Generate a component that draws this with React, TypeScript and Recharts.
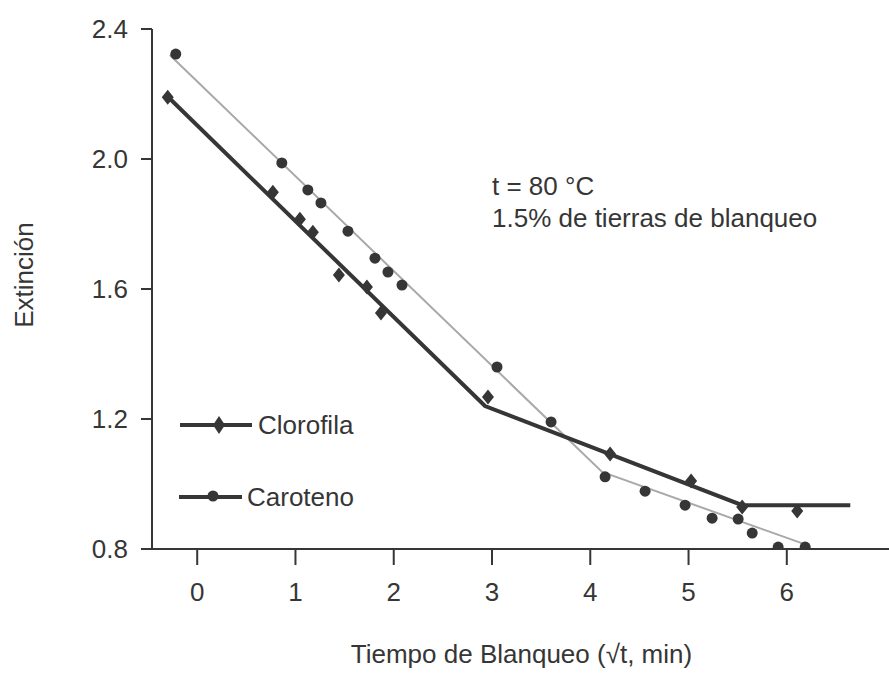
import { ComposedChart, Line, Scatter, XAxis, YAxis, Label } from 'recharts';

// tick values
const xTicks = [0, 1, 2, 3, 4, 5, 6];
const yTicks = [0.8, 1.2, 1.6, 2.0, 2.4];

// measured points, Clorofila (diamonds)
const clorofilaPts = [
  { x: -0.3, y: 2.19 },
  { x: 0.77, y: 1.898 },
  { x: 1.045, y: 1.815 },
  { x: 1.177, y: 1.775 },
  { x: 1.442, y: 1.643 },
  { x: 1.727, y: 1.606 },
  { x: 1.87, y: 1.526 },
  { x: 2.959, y: 1.268 },
  { x: 4.202, y: 1.092 },
  { x: 5.026, y: 1.009 },
  { x: 5.546, y: 0.929 },
  { x: 6.106, y: 0.917 },
];

// measured points, Caroteno (circles)
const carotenoPts = [
  { x: -0.218, y: 2.323 },
  { x: 0.861, y: 1.988 },
  { x: 1.126, y: 1.905 },
  { x: 1.259, y: 1.865 },
  { x: 1.534, y: 1.778 },
  { x: 1.809, y: 1.695 },
  { x: 1.941, y: 1.652 },
  { x: 2.084, y: 1.612 },
  { x: 3.051, y: 1.36 },
  { x: 3.601, y: 1.191 },
  { x: 4.151, y: 1.022 },
  { x: 4.558, y: 0.978 },
  { x: 4.965, y: 0.935 },
  { x: 5.24, y: 0.895 },
  { x: 5.505, y: 0.892 },
  { x: 5.648, y: 0.849 },
  { x: 5.912, y: 0.806 },
  { x: 6.187, y: 0.806 },
];

// fitted segments
const clorofilaFit = [
  { x: -0.317, y: 2.197 },
  { x: 2.929, y: 1.24 },
  { x: 5.546, y: 0.935 },
  { x: 6.646, y: 0.935 },
];
const carotenoFit = [
  { x: -0.279, y: 2.32 },
  { x: 4.12, y: 1.037 },
  { x: 6.208, y: 0.812 },
];

const series = ['Clorofila', 'Caroteno'];
const note = ['t = 80 °C', '1.5% de tierras de blanqueo'];
const xTitle = 'Tiempo de Blanqueo (√t, min)';
const yTitle = 'Extinción';

const INK = '#363636';
const LIGHT = '#a9a9a9';
const FONT = '"Liberation Sans", Arial, Helvetica, sans-serif';
const FS = 26;

const Diamond = (p: any) => {
  const { cx, cy } = p;
  if (cx == null || cy == null) return null;
  return <polygon points={`${cx},${cy - 7.5} ${cx + 6},${cy} ${cx},${cy + 7.5} ${cx - 6},${cy}`} fill={INK} />;
};

const Dot = (p: any) => {
  const { cx, cy } = p;
  if (cx == null || cy == null) return null;
  return <circle cx={cx} cy={cy} r={5.5} fill={INK} />;
};

const XTitle = (p: any) => {
  const vb = p.viewBox || {};
  const cx = (vb.x ?? 152) + (vb.width ?? 737) / 2;
  return (
    <text x={cx + 1} y={663} textAnchor="middle" fontSize={FS} fill={INK} fontFamily={FONT}>
      {xTitle}
    </text>
  );
};

const YTitle = (p: any) => {
  const vb = p.viewBox || {};
  const cy = (vb.y ?? 29) + (vb.height ?? 520) / 2 - 14;
  const cx = 24;
  return (
    <text
      x={cx}
      y={cy}
      transform={`rotate(-90 ${cx} ${cy})`}
      textAnchor="middle"
      dominantBaseline="central"
      fontSize={FS}
      fill={INK}
      fontFamily={FONT}
    >
      {yTitle}
    </text>
  );
};

export default function App() {
  return (
    <div style={{ position: 'absolute', left: 0, top: 0, width: 889, height: 686, background: '#fff', fontFamily: FONT }}>
      <ComposedChart width={889} height={686} margin={{ top: 29, right: 0, bottom: 0, left: 0 }}>
        <XAxis
          type="number"
          dataKey="x"
          domain={[-0.46, 7.04]}
          ticks={xTicks}
          height={137}
          tickSize={16}
          tickMargin={18}
          stroke={INK}
          strokeWidth={2}
          tick={{ fontSize: FS, fill: INK, fontFamily: FONT }}
          allowDataOverflow
        >
          <Label content={XTitle} />
        </XAxis>
        <YAxis
          type="number"
          dataKey="y"
          domain={[0.8, 2.4]}
          ticks={yTicks}
          width={152}
          tickSize={11}
          tickMargin={13}
          stroke={INK}
          strokeWidth={2}
          tickFormatter={(v: number) => v.toFixed(1)}
          tick={{ fontSize: FS, fill: INK, fontFamily: FONT }}
          allowDataOverflow
        >
          <Label content={YTitle} />
        </YAxis>
        <Line
          data={carotenoFit}
          dataKey="y"
          type="linear"
          stroke={LIGHT}
          strokeWidth={2}
          dot={false}
          activeDot={false}
          isAnimationActive={false}
        />
        <Line
          data={clorofilaFit}
          dataKey="y"
          type="linear"
          stroke={INK}
          strokeWidth={4}
          dot={false}
          activeDot={false}
          isAnimationActive={false}
        />
        <Scatter name={series[1]} data={carotenoPts} shape={Dot} isAnimationActive={false} />
        <Scatter name={series[0]} data={clorofilaPts} shape={Diamond} isAnimationActive={false} />
      </ComposedChart>

      <svg
        width={889}
        height={686}
        style={{ position: 'absolute', left: 0, top: 0, pointerEvents: 'none' }}
      >
        <g fontFamily={FONT} fontSize={FS} fill={INK}>
          <line x1={180} y1={425} x2={252} y2={425} stroke={INK} strokeWidth={4} />
          <polygon points="219,416 225,425 219,434 213,425" fill={INK} />
          <text x={258} y={434}>{series[0]}</text>
          <line x1={179} y1={497} x2={242} y2={497} stroke={INK} strokeWidth={4} />
          <circle cx={213} cy={496} r={5.5} fill={INK} />
          <text x={247} y={506}>{series[1]}</text>
          <text x={492} y={195}>{note[0]}</text>
          <text x={492} y={227}>{note[1]}</text>
        </g>
      </svg>
    </div>
  );
}
